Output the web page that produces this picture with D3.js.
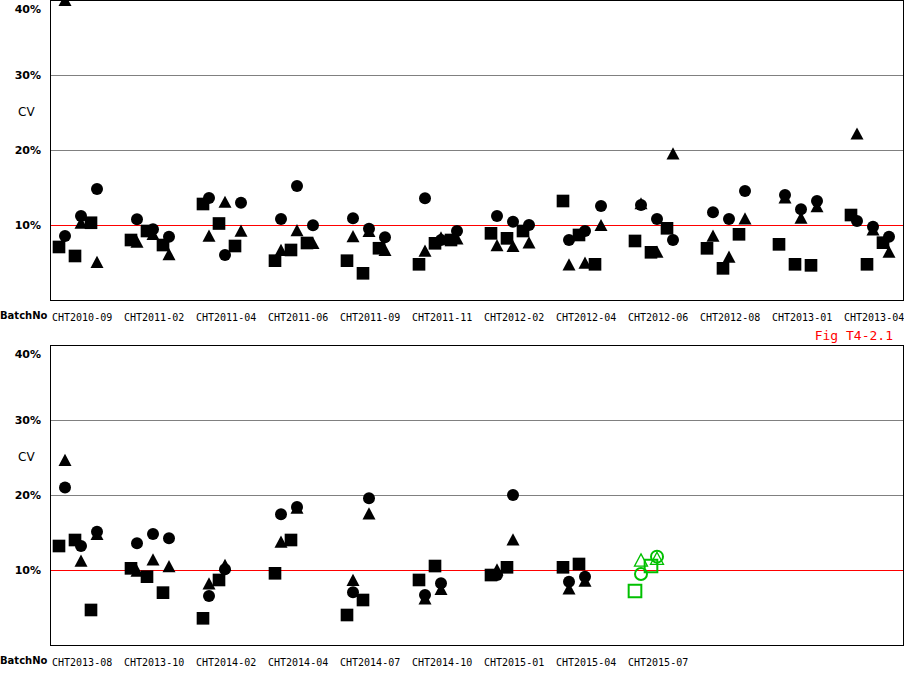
<!DOCTYPE html>
<html><head><meta charset="utf-8">
<script src="https://cdn.jsdelivr.net/npm/d3@7"></script>
<style>body{margin:0;background:#fff}svg{display:block}</style>
</head><body>
<svg id="chart" width="904" height="690"></svg>
<script>
// ---- data (CV %, per batch group, per lot within group) ----
const topBatches = ["CHT2010-09","CHT2011-02","CHT2011-04","CHT2011-06","CHT2011-09","CHT2011-11",
                    "CHT2012-02","CHT2012-04","CHT2012-06","CHT2012-08","CHT2013-01","CHT2013-04"];
const topSquare = [[7.07,5.87,10.3],[8.0,9.2,7.33],[12.8,10.2,7.2],[5.24,6.67,7.6],[5.24,3.56,6.9],[4.76,7.56,8.0],
                   [8.89,8.22,9.2],[13.2,8.67,4.76],[7.87,6.36,9.56],[6.89,4.22,8.76],[7.42,4.76,4.62],[11.33,4.76,7.64]];
const topCircle = [[8.53,11.2,14.8],[10.76,9.43,8.44],[13.6,6.0,12.97],[10.8,15.2,9.96],[10.9,9.5,8.36],[13.56,8.0,9.2],
                   [11.2,10.44,10.0],[8.0,9.2,12.53],[12.67,10.8,8.0],[11.69,10.8,14.53],[14.0,12.09,13.2],[10.53,9.78,8.44]];
const topTriangle = [[40,10.3,5.07],[7.77,8.8,6.13],[8.57,13.1,9.24],[6.67,9.33,7.6],[8.53,9.2,6.67],[6.58,8.36,8.2],
                     [7.33,7.2,7.69],[4.76,4.98,10.0],[12.9,6.44,19.56],[8.58,5.78,10.89],[13.69,10.98,12.53],[22.2,9.42,6.44]];

const bottomBatches = ["CHT2013-08","CHT2013-10","CHT2014-02","CHT2014-04","CHT2014-07","CHT2014-10",
                       "CHT2015-01","CHT2015-04","CHT2015-07"];
const bottomSquare = [[13.2,14.0,4.67],[10.22,9.11,6.98],[3.56,8.67],[9.56,14.0],[4.0,6.0],[8.67,10.53],
                      [9.33,10.36],[10.36,10.8],[7.2,10.53]];
const bottomCircle = [[21.0,13.2,15.1],[13.56,14.8,14.22],[6.53,10.09],[17.42,18.4],[7.02,19.56],[6.67,8.22],
                      [9.33,20.0],[8.44,9.11],[9.47,11.78]];
const bottomTriangle = [[24.67,11.24,14.8],[9.9,11.42,10.53],[8.22,10.67],[13.78,18.3],[8.67,17.56],[6.22,7.47],
                        [10.09,14.09],[7.56,8.58],[11.33,11.56]];
const currentBatch = "CHT2015-07";

const yTicks = [10,20,30,40];
const gridTicks = [20,30];
const limitCV = 10;
const figLabel = "Fig T4-2.1";

// ---- drawing ----
const svg = d3.select("#chart");
const W = 904;
const plotL = 50, plotR = 903, plotH = 300, bandStart = 52, bandStep = 72;

const triangleUp = {
  draw(ctx, size) {
    const s = Math.sqrt(size);
    ctx.moveTo(0, -s * 0.47);
    ctx.lineTo(s / 2, s * 0.47);
    ctx.lineTo(-s / 2, s * 0.47);
    ctx.closePath();
  }
};
const shapes = {
  square: d3.symbol().type(d3.symbolSquare).size(160)(),
  circle: d3.symbol().type(d3.symbolCircle).size(Math.PI * 36)(),
  triangle: d3.symbol().type(triangleUp).size(169)()
};

function panel(top, batches, sq, ci, tr) {
  const g = svg.append("g");
  const y = d3.scaleLinear().domain([0, 40]).range([top + plotH, top]);
  const x = d3.scaleBand().domain(batches).range([bandStart, bandStart + bandStep * batches.length]).padding(0);
  const inner = d3.scalePoint().domain([0, 1, 2]).range([13, 45]);

  // grid
  g.selectAll(".grid").data(gridTicks).join("line")
    .attr("x1", plotL).attr("x2", plotR)
    .attr("y1", d => Math.round(y(d)) + 0.5).attr("y2", d => Math.round(y(d)) + 0.5)
    .attr("stroke", "#808080").attr("stroke-width", 1);
  // limit line
  g.append("line")
    .attr("x1", plotL).attr("x2", plotR)
    .attr("y1", Math.round(y(limitCV)) + 0.5).attr("y2", Math.round(y(limitCV)) + 0.5)
    .attr("stroke", "#ff0000").attr("stroke-width", 1);
  // frame
  g.append("rect")
    .attr("x", plotL + 0.5).attr("y", top + 0.5)
    .attr("width", plotR - plotL).attr("height", plotH)
    .attr("fill", "none").attr("stroke", "#000").attr("stroke-width", 1);

  // y labels
  g.selectAll(".ylab").data(yTicks).join("text")
    .attr("x", 41).attr("y", d => Math.max(y(d), top + 9))
    .attr("dy", "0.36em").attr("text-anchor", "end")
    .attr("font-family", "DejaVu Sans, Verdana, sans-serif").attr("font-weight", "bold")
    .attr("font-size", 11).text(d => d + "%");
  g.append("text").attr("x", 18).attr("y", top + 112).attr("dy", "0.36em")
    .attr("font-family", "DejaVu Sans, Verdana, sans-serif").attr("font-size", 12).text("CV");

  // x labels
  g.append("text").attr("x", 0).attr("y", top + 315).attr("dy", "0.36em")
    .attr("font-family", "DejaVu Sans, Verdana, sans-serif").attr("font-weight", "bold")
    .attr("font-size", 10).text("BatchNo");
  g.selectAll(".xlab").data(batches).join("text")
    .attr("x", d => x(d)).attr("y", top + 317).attr("dy", "0.36em")
    .attr("font-family", "DejaVu Sans Mono, monospace").attr("font-size", 10).text(d => d);

  // points
  const pts = [];
  batches.forEach((b, gi) => {
    const series = [["square", sq[gi], -6], ["circle", ci[gi], 0], ["triangle", tr[gi], 0]];
    series.forEach(([shape, vals, off]) => {
      vals.forEach((v, j) => pts.push({ b, shape, v, px: x(b) + inner(j) + off, cur: b === currentBatch }));
    });
  });
  g.selectAll(".pt").data(pts).join("path")
    .attr("d", d => shapes[d.shape])
    .attr("transform", d => `translate(${d.px},${y(d.v)})`)
    .attr("fill", d => d.cur ? "none" : "#000")
    .attr("stroke", d => d.cur ? "#00c000" : "none")
    .attr("stroke-width", d => d.shape === "triangle" ? 1.3 : 2);
}

panel(0, topBatches, topSquare, topCircle, topTriangle);
panel(345, bottomBatches, bottomSquare, bottomCircle, bottomTriangle);

svg.append("text").attr("x", 893).attr("y", 335).attr("dy", "0.36em").attr("text-anchor", "end")
  .attr("font-family", "DejaVu Sans Mono, monospace").attr("font-size", 13).attr("fill", "#ff0000").text(figLabel);
</script>
</body></html>
